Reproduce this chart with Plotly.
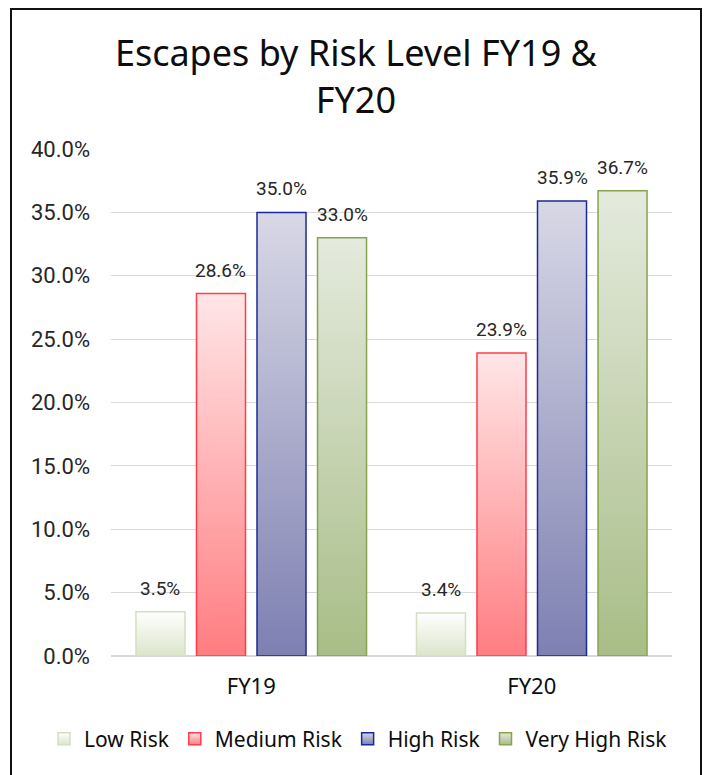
import json
import plotly.graph_objects as go

# Share of escapes by risk level, per fiscal year
years = ["FY19", "FY20"]
risk_levels = ["Low Risk", "Medium Risk", "High Risk", "Very High Risk"]
low_risk = [0.035, 0.034]
medium_risk = [0.286, 0.239]
high_risk = [0.350, 0.359]
very_high_risk = [0.330, 0.367]
y_ticks = [0.0, 0.05, 0.10, 0.15, 0.20, 0.25, 0.30, 0.35, 0.40]

series = [low_risk, medium_risk, high_risk, very_high_risk]

# Fill gradients (top colour, bottom colour) and outline colours per series
gradients = [
    ("#ffffff", "#dce5ca"),
    ("#ffe6e7", "#ff7d81"),
    ("#d8d8e6", "#7d80b1"),
    ("#e4eadd", "#a8bd87"),
]
outlines = ["#d3dfc0", "#ff3c4a", "#1b2a99", "#87a34e"]

TEXT_FONT = "Noto Sans"
NUM_FONT = "Roboto"

BAR_GAP = 0.137
GROUP_GAP = 0.19
slot = (1 - BAR_GAP) / len(series)

# plot-area geometry in pixels (used to place the outer frame and legend)
W, H = 709, 775
M_L, M_R, M_T, M_B = 111, 37, 149, 119
PW, PH = W - M_L - M_R, H - M_T - M_B


def px_to_paper_x(px):
    return (px - M_L) / PW


def px_to_paper_y(py):
    return (H - M_B - py) / PH


fig = go.Figure()
for k, (name, vals) in enumerate(zip(risk_levels, series)):
    fig.add_trace(go.Bar(
        name=name,
        x=years,
        y=vals,
        marker=dict(color=gradients[k][1],
                    line=dict(color=outlines[k], width=1.5)),
        hoverinfo="skip",
    ))
    # value labels above each bar
    for i, v in enumerate(vals):
        fig.add_annotation(
            x=i + (k - (len(series) - 1) / 2) * slot,
            y=v,
            xref="x", yref="y",
            text=f"{v * 100:.1f}%",
            showarrow=False,
            yanchor="bottom",
            yshift=10,
            font=dict(family=NUM_FONT, size=19, color="#262626"),
        )

fig.update_layout(
    width=W, height=H,
    margin=dict(l=M_L, r=M_R, t=M_T, b=M_B),
    paper_bgcolor="white",
    plot_bgcolor="white",
    barmode="group",
    bargap=BAR_GAP,
    bargroupgap=GROUP_GAP,
    title=dict(
        text="Escapes by Risk Level FY19 &<br>FY20",
        x=0.502, xref="container", xanchor="center",
        y=0.915, yref="container", yanchor="top",
        font=dict(family=TEXT_FONT, size=36, color="#0d0d0d"),
    ),
    legend=dict(
        orientation="h",
        x=px_to_paper_x(44), xref="paper", xanchor="left",
        y=px_to_paper_y(739), yref="paper", yanchor="middle",
        font=dict(family=TEXT_FONT, size=21, color="#0d0d0d"),
        itemwidth=30,
        traceorder="normal",
    ),
    showlegend=True,
    shapes=[dict(
        type="rect", xref="paper", yref="paper",
        x0=px_to_paper_x(11), x1=px_to_paper_x(701),
        y0=px_to_paper_y(777), y1=px_to_paper_y(9),
        line=dict(color="#111111", width=2),
        fillcolor="rgba(0,0,0,0)",
        layer="below",
    )],
)

fig.update_yaxes(
    range=[0, 0.40],
    tickvals=y_ticks,
    tickformat=".1%",
    showgrid=True, gridcolor="#d9d9d9", gridwidth=1,
    zeroline=True, zerolinecolor="#d9d9d9", zerolinewidth=2,
    showline=False,
    ticks="",
    ticklabelstandoff=20,
    tickfont=dict(family=NUM_FONT, size=22, color="#262626"),
)
fig.update_xaxes(
    showgrid=False, showline=False, ticks="",
    ticklabelstandoff=15,
    tickfont=dict(family=TEXT_FONT, size=22, color="#0d0d0d"),
)

# Vertical gradient fill for bars and legend swatches
gradient_js = """
var gd = document.getElementById('{plot_id}');
var NS = 'http://www.w3.org/2000/svg';
var grads = GRADS;
var svg = gd.querySelector('svg.main-svg');
var defs = svg.querySelector('defs');
if (!defs) { defs = document.createElementNS(NS, 'defs'); svg.insertBefore(defs, svg.firstChild); }
grads.forEach(function (g, i) {
  var lg = document.createElementNS(NS, 'linearGradient');
  lg.setAttribute('id', 'riskgrad' + i);
  lg.setAttribute('x1', '0'); lg.setAttribute('y1', '0');
  lg.setAttribute('x2', '0'); lg.setAttribute('y2', '1');
  [[0, g[0]], [1, g[1]]].forEach(function (s) {
    var st = document.createElementNS(NS, 'stop');
    st.setAttribute('offset', s[0]);
    st.setAttribute('stop-color', s[1]);
    lg.appendChild(st);
  });
  defs.appendChild(lg);
});
function paint() {
  gd.querySelectorAll('.barlayer .trace').forEach(function (tr, i) {
    tr.querySelectorAll('.point path').forEach(function (p) { p.style.fill = 'url(#riskgrad' + i + ')'; });
  });
  gd.querySelectorAll('.legend .traces').forEach(function (tr, i) {
    tr.querySelectorAll('.legendpoints path').forEach(function (p) { p.style.fill = 'url(#riskgrad' + i + ')'; });
  });
}
paint();
gd.on('plotly_afterplot', paint);
""".replace("GRADS", json.dumps([list(g) for g in gradients]))

fig.write_html("out.html", post_script=gradient_js)
